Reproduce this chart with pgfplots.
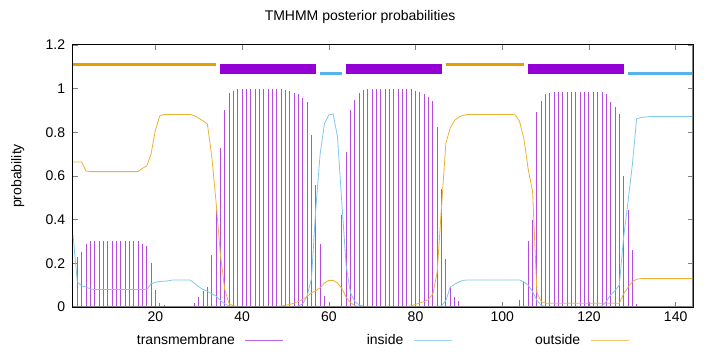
\documentclass[border=0pt]{standalone}
\usepackage{fontspec}
\setmainfont{Liberation Sans}
\usepackage{pgfplots}
\pgfplotsset{compat=1.18}
\definecolor{tmc}{HTML}{9400D3}
\definecolor{inc}{HTML}{56B4E9}
\definecolor{outc}{HTML}{E69F00}
\newcommand{\fsz}{\fontsize{14bp}{17bp}\selectfont}
\begin{document}
\fsz
\begin{tikzpicture}
\useasboundingbox (-73bp,-45bp) rectangle (647bp,307bp);
\begin{axis}[
  at={(0,0)}, anchor=south west,
  scale only axis, width=620bp, height=262bp,
  xmin=1, xmax=144, ymin=0, ymax=1.2,
  xtick={20,40,60,80,100,120,140},
  ytick={0,0.2,0.4,0.6,0.8,1,1.2},
  /pgf/number format/assume math mode=true,
  tick label style={font=\fsz},
  yticklabel style={xshift=-3bp},
  tick align=inside, major tick length=5bp,
  tick style={gray, line width=0.6bp},
  axis line style={black, line width=1bp},
  title={TMHMM posterior probabilities},
  title style={at={(axis description cs:0.463,1)}, anchor=base, yshift=19bp, font=\fsz},
  ylabel={probability},
  ylabel style={at={(axis description cs:-0.089,0.5)}, anchor=center, font=\fsz},
  legend plot pos=right,
  legend columns=3,
  legend style={at={(axis description cs:0.5,-0.126)}, anchor=center, draw=none, fill=none,
    inner sep=0pt, font=\fsz, nodes={inner sep=0pt},
    /tikz/every odd column/.append style={column sep=10bp},
    /tikz/every even column/.append style={column sep=83bp}},
]
% transmembrane impulses
\addplot[ycomb, no markers, draw=tmc!70!white, line width=0.9bp,
  legend image code/.code={\draw[tmc!60!white, line width=0.8bp] (0bp,0bp) -- (38bp,0bp);}]
coordinates {
(1,0.005)(2,0.23)(3,0.25)(4,0.29)(5,0.30)(6,0.30)(7,0.30)(8,0.30)(9,0.30)(10,0.30)
(11,0.30)(12,0.30)(13,0.30)(14,0.30)(15,0.30)(16,0.30)(17,0.29)(18,0.28)(19,0.20)(20,0.08)
(21,0.017)(22,0.01)(23,0.005)(28,0.002)(29,0.02)(30,0.046)(31,0.073)(32,0.09)(33,0.24)(34,0.445)
(35,0.73)(36,0.90)(37,0.98)(38,0.99)(39,0.997)(40,1.0)(41,1.0)(42,1.0)(43,1.0)(44,1.0)
(45,1.0)(46,1.0)(47,1.0)(48,1.0)(49,1.0)(50,0.995)(51,0.99)(52,0.982)(53,0.975)(54,0.955)
(55,0.94)(56,0.79)(57,0.56)(58,0.29)(59,0.05)(60,0.005)(63,0.42)(64,0.71)(65,0.90)(66,0.95)
(67,0.978)(68,0.993)(69,1.0)(70,1.0)(71,1.0)(72,1.0)(73,1.0)(74,1.0)(75,1.0)(76,1.0)
(77,1.0)(78,1.0)(79,1.0)(80,0.99)(81,0.986)(82,0.976)(83,0.963)(84,0.945)(85,0.826)(86,0.54)
(87,0.22)(88,0.093)(89,0.047)(90,0.027)(91,0.005)(104,0.03)(105,0.116)(106,0.30)(107,0.40)(108,0.892)
(109,0.944)(110,0.975)(111,0.982)(112,0.983)(113,0.983)(114,0.983)(115,0.983)(116,0.983)(117,0.983)(118,0.983)
(119,0.983)(120,0.983)(121,0.983)(122,0.983)(123,0.983)(124,0.977)(125,0.94)(126,0.917)(127,0.884)(128,0.60)
(129,0.444)(130,0.26)(131,0.013)(132,0.003)
};
\addlegendentry{transmembrane}
% inside
\addplot[no markers, draw=inc!75!white, line width=0.8bp,
  legend image code/.code={\draw[inc!60!white, line width=0.8bp] (0bp,0bp) -- (38bp,0bp);}]
coordinates {
(1,0.33)(2,0.116)(3,0.096)(4,0.093)(5,0.082)(6,0.08)(7,0.08)(8,0.08)(9,0.08)(10,0.08)
(11,0.08)(12,0.08)(13,0.08)(14,0.08)(15,0.08)(16,0.08)(17,0.08)(18,0.08)(19,0.106)(20,0.113)
(21,0.117)(22,0.118)(23,0.12)(24,0.124)(25,0.124)(26,0.124)(27,0.124)(28,0.124)(29,0.108)(30,0.093)
(31,0.08)(32,0.072)(33,0.06)(34,0.05)(35,0.03)(36,0.015)(37,0.005)(38,0.001)(39,0.001)(40,0.001)
(41,0.001)(42,0.001)(43,0.001)(44,0.001)(45,0.001)(46,0.001)(47,0.001)(48,0.001)(49,0.001)(50,0.001)
(51,0.001)(52,0.002)(53,0.005)(54,0.015)(55,0.05)(56,0.13)(57,0.45)(58,0.70)(59,0.84)(60,0.88)
(61,0.884)(62,0.78)(63,0.48)(64,0.19)(65,0.065)(66,0.025)(67,0.01)(68,0.003)(69,0.001)(70,0.001)
(71,0.001)(72,0.001)(73,0.001)(74,0.001)(75,0.001)(76,0.001)(77,0.001)(78,0.001)(79,0.001)(80,0.001)
(81,0.001)(82,0.001)(83,0.001)(84,0.001)(85,0.002)(86,0.005)(87,0.03)(88,0.09)(89,0.104)(90,0.115)
(91,0.122)(92,0.124)(93,0.124)(94,0.124)(95,0.124)(96,0.124)(97,0.124)(98,0.124)(99,0.124)(100,0.124)
(101,0.124)(102,0.124)(103,0.124)(104,0.124)(105,0.115)(106,0.10)(107,0.07)(108,0.03)(109,0.008)(110,0.002)
(111,0.002)(112,0.002)(113,0.002)(114,0.002)(115,0.002)(116,0.002)(117,0.002)(118,0.002)(119,0.002)(120,0.002)
(121,0.002)(122,0.002)(123,0.005)(124,0.025)(125,0.055)(126,0.075)(127,0.10)(128,0.32)(129,0.48)(130,0.65)
(131,0.862)(132,0.868)(133,0.870)(134,0.872)(135,0.872)(136,0.872)(137,0.872)(138,0.872)(139,0.872)(140,0.872)
(141,0.872)(142,0.872)(143,0.872)(144,0.872)
};
\addlegendentry{inside}
% outside
\addplot[no markers, draw=outc!80!white, line width=0.8bp,
  legend image code/.code={\draw[outc!55!white, line width=0.8bp] (0bp,0bp) -- (38bp,0bp);}]
coordinates {
(1,0.664)(2,0.664)(3,0.664)(4,0.623)(5,0.62)(6,0.62)(7,0.62)(8,0.62)(9,0.62)(10,0.62)
(11,0.62)(12,0.62)(13,0.62)(14,0.62)(15,0.62)(16,0.62)(17,0.635)(18,0.646)(19,0.70)(20,0.81)
(21,0.875)(22,0.882)(23,0.882)(24,0.882)(25,0.882)(26,0.882)(27,0.882)(28,0.882)(29,0.876)(30,0.865)
(31,0.852)(32,0.838)(33,0.69)(34,0.48)(35,0.24)(36,0.08)(37,0.015)(38,0.005)(39,0.002)(40,0.002)
(41,0.002)(42,0.002)(43,0.002)(44,0.002)(45,0.002)(46,0.002)(47,0.002)(48,0.002)(49,0.005)(50,0.008)
(51,0.012)(52,0.018)(53,0.025)(54,0.035)(55,0.048)(56,0.065)(57,0.075)(58,0.088)(59,0.11)(60,0.122)
(61,0.122)(62,0.11)(63,0.085)(64,0.045)(65,0.02)(66,0.006)(67,0.003)(68,0.002)(69,0.002)(70,0.002)
(71,0.002)(72,0.002)(73,0.002)(74,0.002)(75,0.002)(76,0.002)(77,0.002)(78,0.002)(79,0.005)(80,0.012)
(81,0.018)(82,0.025)(83,0.035)(84,0.06)(85,0.16)(86,0.46)(87,0.75)(88,0.82)(89,0.855)(90,0.87)
(91,0.878)(92,0.882)(93,0.882)(94,0.882)(95,0.882)(96,0.882)(97,0.882)(98,0.882)(99,0.882)(100,0.882)
(101,0.882)(102,0.882)(103,0.88)(104,0.85)(105,0.77)(106,0.63)(107,0.53)(108,0.065)(109,0.025)(110,0.017)
(111,0.017)(112,0.017)(113,0.017)(114,0.017)(115,0.017)(116,0.017)(117,0.017)(118,0.017)(119,0.017)(120,0.017)
(121,0.017)(122,0.017)(123,0.017)(124,0.017)(125,0.017)(126,0.017)(127,0.017)(128,0.06)(129,0.09)(130,0.115)
(131,0.127)(132,0.13)(133,0.13)(134,0.13)(135,0.13)(136,0.13)(137,0.13)(138,0.13)(139,0.13)(140,0.13)
(141,0.13)(142,0.13)(143,0.13)(144,0.13)
};
\addlegendentry{outside}
% topology bars
\addplot[forget plot, no markers, draw=outc, line width=3bp, line cap=butt] coordinates {(1,1.11)(34,1.11)};
\addplot[forget plot, no markers, draw=outc, line width=3bp, line cap=butt] coordinates {(87,1.11)(105,1.11)};
\addplot[forget plot, no markers, draw=inc, line width=3bp, line cap=butt] coordinates {(58,1.07)(63,1.07)};
\addplot[forget plot, no markers, draw=inc, line width=3bp, line cap=butt] coordinates {(129,1.07)(144,1.07)};
\addplot[forget plot, no markers, draw=tmc, line width=10bp, line cap=butt] coordinates {(35,1.09)(57,1.09)};
\addplot[forget plot, no markers, draw=tmc, line width=10bp, line cap=butt] coordinates {(64,1.09)(86,1.09)};
\addplot[forget plot, no markers, draw=tmc, line width=10bp, line cap=butt] coordinates {(106,1.09)(128,1.09)};
\draw[gray, line width=1.5bp] (rel axis cs:0,0) -- (rel axis cs:1,0) -- (rel axis cs:1,1);
\end{axis}
\end{tikzpicture}
\end{document}
